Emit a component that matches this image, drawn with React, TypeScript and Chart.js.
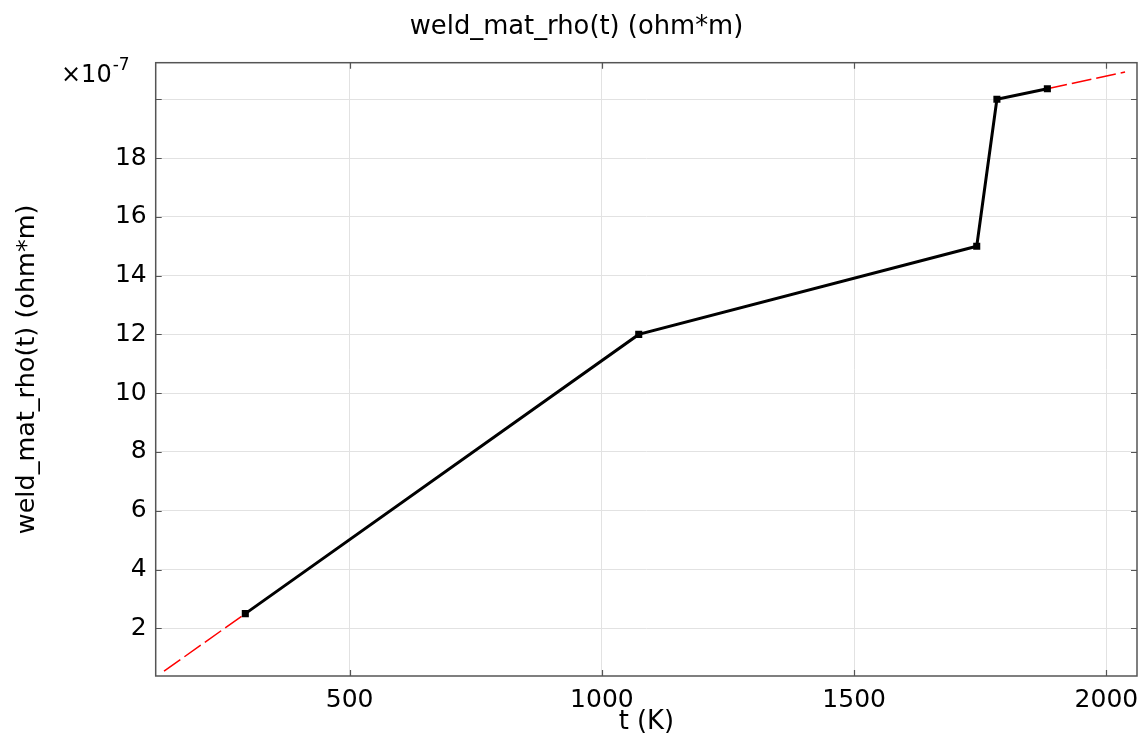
import React, { useEffect, useRef } from 'react';
import { Chart, registerables } from 'chart.js';

Chart.register(...registerables);

// Data (resistivity in units of 1e-7 ohm*m)
const tempK = [293.15, 1073, 1743, 1783, 1883];
const rhoE7 = [2.5, 12.0, 15.0, 20.0, 20.36];
const extrapLowT = [132, 293.15];
const extrapLowRho = [0.54, 2.5];
const extrapHighT = [1883, 2037];
const extrapHighRho = [20.36, 20.93];

const xTicks = [500, 1000, 1500, 2000];
const yTicks = [2, 4, 6, 8, 10, 12, 14, 16, 18, 20];
const yTickLabels = ['2', '4', '6', '8', '10', '12', '14', '16', '18', ''];

const TITLE = 'weld_mat_rho(t) (ohm*m)';
const X_TITLE = 't (K)';
const Y_TITLE = 'weld_mat_rho(t) (ohm*m)';

const X_MIN = 115.5;
const X_MAX = 2060.7;
const Y_MIN = 0.377;
const Y_MAX = 21.245;

const FONT = "'DejaVu Sans', sans-serif";

const toPts = (xs: number[], ys: number[]) => xs.map((x, i) => ({ x, y: ys[i] }));

const framePlugin = {
  id: 'frame',
  afterDatasetsDraw(chart: any) {
    const { ctx, chartArea, scales } = chart;
    const { left, right, top, bottom } = chartArea;
    const x = scales.x;
    const y = scales.y;
    ctx.save();
    ctx.strokeStyle = '#555555';
    ctx.lineWidth = 1.5;
    ctx.strokeRect(left, top, right - left, bottom - top);
    ctx.lineWidth = 1.2;
    ctx.beginPath();
    const tl = 6;
    xTicks.forEach((v) => {
      const px = Math.round(x.getPixelForValue(v)) + 0.5;
      ctx.moveTo(px, bottom);
      ctx.lineTo(px, bottom - tl);
      ctx.moveTo(px, top);
      ctx.lineTo(px, top + tl);
    });
    yTicks.forEach((v) => {
      const py = Math.round(y.getPixelForValue(v)) + 0.5;
      ctx.moveTo(left, py);
      ctx.lineTo(left + tl, py);
      ctx.moveTo(right, py);
      ctx.lineTo(right - tl, py);
    });
    ctx.stroke();

    // main title
    ctx.fillStyle = '#000000';
    ctx.textAlign = 'center';
    ctx.textBaseline = 'middle';
    ctx.font = `25.8px ${FONT}`;
    ctx.fillText(TITLE, 576.5, 27);

    // exponent label
    ctx.textAlign = 'left';
    ctx.textBaseline = 'alphabetic';
    ctx.font = `24px ${FONT}`;
    const base = '\u00d710';
    ctx.fillText(base, 61, 82);
    const w = ctx.measureText(base).width;
    ctx.font = `17px ${FONT}`;
    ctx.fillText('-7', 61 + w + 1, 70);
    ctx.restore();
  },
};

export default function App() {
  const ref = useRef<HTMLCanvasElement | null>(null);

  useEffect(() => {
    document.body.style.margin = '0';
    const canvas = ref.current;
    if (!canvas) return;
    const chart = new Chart(canvas, {
      type: 'scatter',
      data: {
        datasets: [
          {
            label: 'weld_mat_rho',
            data: toPts(tempK, rhoE7),
            showLine: true,
            borderColor: '#000000',
            backgroundColor: '#000000',
            borderWidth: 3,
            pointStyle: 'rect',
            pointRadius: 5,
            pointBorderWidth: 0,
            order: 0,
          },
          {
            label: 'extrap low',
            data: toPts(extrapLowT, extrapLowRho),
            showLine: true,
            borderColor: '#ff0000',
            borderWidth: 1.5,
            borderDash: [20, 5],
            pointRadius: 0,
            order: 1,
          },
          {
            label: 'extrap high',
            data: toPts(extrapHighT, extrapHighRho),
            showLine: true,
            borderColor: '#ff0000',
            borderWidth: 1.5,
            borderDash: [20, 5],
            pointRadius: 0,
            order: 1,
          },
        ],
      },
      options: {
        responsive: false,
        animation: false,
        devicePixelRatio: 1,
        layout: { padding: { left: 0, right: 3, top: 62.7, bottom: 0 } },
        plugins: {
          legend: { display: false },
          tooltip: { enabled: false },
          title: { display: false },
        },
        scales: {
          x: {
            type: 'linear',
            min: X_MIN,
            max: X_MAX,
            afterFit: (s: any) => {
              s.height = 62;
              s.paddingLeft = 0;
              s.paddingRight = 0;
            },
            afterBuildTicks: (s: any) => {
              s.ticks = xTicks.map((v) => ({ value: v }));
            },
            ticks: {
              color: '#000000',
              font: { family: FONT, size: 25 },
              padding: 9,
              maxRotation: 0,
              autoSkip: false,
              callback: (v: any) => String(v),
            },
            grid: { color: '#e2e2e2', lineWidth: 1, drawTicks: false },
            border: { display: false },
            title: {
              display: true,
              text: X_TITLE,
              color: '#000000',
              font: { family: FONT, size: 25.8, lineHeight: 1.2 },
              padding: { top: 0, bottom: 0 },
            },
          },
          y: {
            type: 'linear',
            min: Y_MIN,
            max: Y_MAX,
            afterFit: (s: any) => {
              s.width = 155.7;
              s.paddingTop = 0;
              s.paddingBottom = 0;
            },
            afterBuildTicks: (s: any) => {
              s.ticks = yTicks.map((v) => ({ value: v }));
            },
            ticks: {
              color: '#000000',
              font: { family: FONT, size: 25 },
              padding: 9,
              autoSkip: false,
              callback: (v: any) => {
                const i = yTicks.indexOf(Math.round(Number(v)));
                return i >= 0 ? yTickLabels[i] : '';
              },
            },
            grid: { color: '#e2e2e2', lineWidth: 1, drawTicks: false },
            border: { display: false },
            title: {
              display: true,
              text: Y_TITLE,
              color: '#000000',
              font: { family: FONT, size: 25.5, lineHeight: 1.2 },
              padding: { top: 12, bottom: 0 },
            },
          },
        },
      },
      plugins: [framePlugin],
    });
    return () => chart.destroy();
  }, []);

  return (
    <div style={{ position: 'absolute', left: 0, top: 0, width: 1142, height: 738 }}>
      <canvas ref={ref} width={1142} height={738} style={{ display: 'block', width: 1142, height: 738 }} />
    </div>
  );
}
